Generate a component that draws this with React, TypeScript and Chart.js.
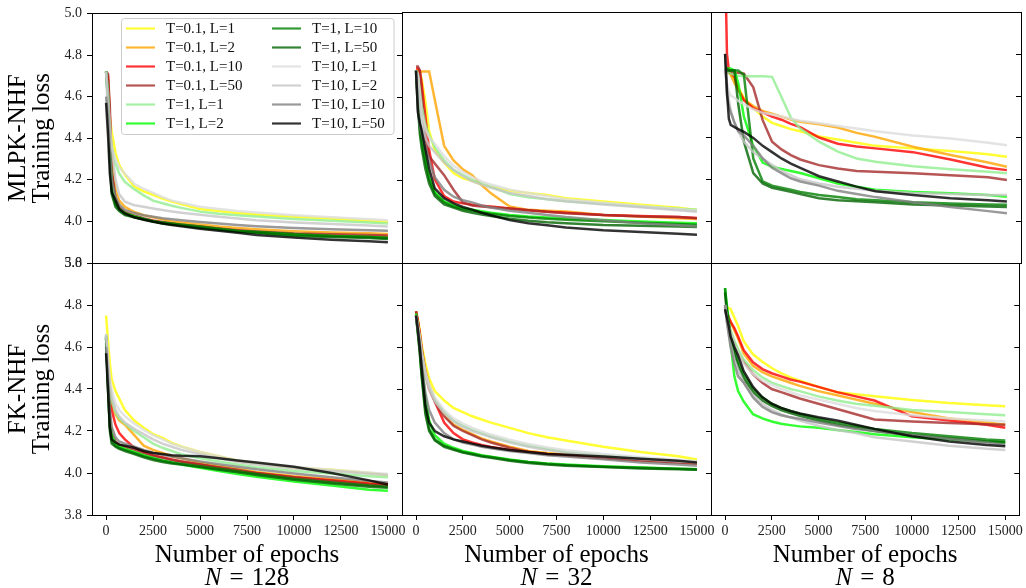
import React, { useEffect, useRef } from "react";
import { Chart, registerables } from "chart.js";

Chart.register(...registerables);

// ---------------- data ----------------
const EPOCHS = [0, 100, 200, 300, 500, 700, 1000, 1500, 2000, 2500, 3000, 3500, 4000, 5000, 6000, 7000, 8000, 10000, 12000, 14000, 15000];
const X_TICKS = [0, 2500, 5000, 7500, 10000, 12500, 15000];
const Y_TICKS = [3.8, 4.0, 4.2, 4.4, 4.6, 4.8, 5.0];

const SERIES_LABELS = [
  "T=0.1, L=1", "T=0.1, L=2", "T=0.1, L=10", "T=0.1, L=50",
  "T=1, L=1", "T=1, L=2", "T=1, L=10", "T=1, L=50",
  "T=10, L=1", "T=10, L=2", "T=10, L=10", "T=10, L=50",
];
const SERIES_COLORS = [
  "rgba(255,255,0,0.8)", "rgba(255,165,0,0.8)", "rgba(255,0,0,0.8)", "rgba(165,42,42,0.8)",
  "rgba(144,238,144,0.8)", "rgba(0,255,0,0.8)", "rgba(0,128,0,0.8)", "rgba(0,100,0,0.8)",
  "rgba(220,220,220,0.8)", "rgba(198,198,198,0.8)", "rgba(128,128,128,0.8)", "rgba(0,0,0,0.8)",
];
const ROW_LABELS = [["MLPK-NHF", "Training loss"], ["FK-NHF", "Training loss"]];
const COL_N = ["128", "32", "8"];
const X_TITLE = "Number of epochs";

// MLPK-NHF, N = 128
const MLPK_N128 = [
  [4.72, 4.62, 4.50, 4.43, 4.33, 4.27, 4.225, 4.168, 4.145, 4.128, 4.11, 4.095, 4.083, 4.06, 4.05, 4.04, 4.033, 4.022, 4.014, 4.003, 3.998],
  [4.72, 4.68, 4.50, 4.30, 4.15, 4.10, 4.07, 4.045, 4.03, 4.02, 4.01, 4.0, 3.995, 3.985, 3.975, 3.968, 3.962, 3.953, 3.947, 3.943, 3.94],
  [4.72, 4.70, 4.50, 4.22, 4.10, 4.065, 4.04, 4.025, 4.012, 4.002, 3.995, 3.988, 3.982, 3.972, 3.963, 3.955, 3.948, 3.938, 3.932, 3.928, 3.925],
  [4.72, 4.71, 4.55, 4.25, 4.11, 4.07, 4.045, 4.028, 4.015, 4.005, 3.997, 3.99, 3.984, 3.975, 3.966, 3.958, 3.952, 3.942, 3.938, 3.935, 3.932],
  [4.72, 4.55, 4.42, 4.36, 4.28, 4.23, 4.19, 4.155, 4.125, 4.10, 4.087, 4.075, 4.065, 4.047, 4.037, 4.03, 4.023, 4.012, 4.003, 3.995, 3.99],
  [4.72, 4.62, 4.38, 4.18, 4.09, 4.06, 4.04, 4.025, 4.012, 4.0, 3.992, 3.986, 3.98, 3.97, 3.962, 3.953, 3.947, 3.935, 3.93, 3.925, 3.92],
  [4.72, 4.60, 4.33, 4.15, 4.08, 4.055, 4.035, 4.02, 4.01, 4.0, 3.995, 3.99, 3.985, 3.975, 3.965, 3.955, 3.95, 3.94, 3.93, 3.925, 3.92],
  [4.72, 4.58, 4.30, 4.13, 4.07, 4.05, 4.03, 4.02, 4.01, 4.0, 3.99, 3.985, 3.98, 3.97, 3.96, 3.95, 3.945, 3.93, 3.925, 3.92, 3.915],
  [4.72, 4.50, 4.39, 4.35, 4.30, 4.26, 4.23, 4.18, 4.157, 4.137, 4.117, 4.10, 4.09, 4.07, 4.06, 4.05, 4.043, 4.03, 4.02, 4.01, 4.006],
  [4.72, 4.62, 4.48, 4.36, 4.20, 4.13, 4.095, 4.078, 4.07, 4.062, 4.055, 4.048, 4.042, 4.032, 4.022, 4.014, 4.006, 3.995, 3.988, 3.98, 3.975],
  [4.60, 4.50, 4.35, 4.20, 4.12, 4.08, 4.055, 4.04, 4.03, 4.022, 4.015, 4.01, 4.005, 3.997, 3.99, 3.983, 3.977, 3.968, 3.962, 3.958, 3.955],
  [4.57, 4.42, 4.23, 4.14, 4.10, 4.06, 4.038, 4.02, 4.008, 3.998, 3.99, 3.983, 3.977, 3.965, 3.955, 3.945, 3.935, 3.922, 3.912, 3.905, 3.90],
];

// MLPK-NHF, N = 32
const MLPK_N32 = [
  [4.72, 4.72, 4.71, 4.68, 4.57, 4.43, 4.34, 4.28, 4.23, 4.205, 4.193, 4.175, 4.165, 4.145, 4.135, 4.125, 4.11, 4.094, 4.078, 4.064, 4.054],
  [4.72, 4.716, 4.716, 4.716, 4.716, 4.716, 4.58, 4.36, 4.29, 4.248, 4.22, 4.173, 4.133, 4.07, 4.054, 4.05, 4.046, 4.03, 4.022, 4.014, 4.01],
  [4.73, 4.73, 4.72, 4.66, 4.50, 4.34, 4.20, 4.12, 4.094, 4.085, 4.078, 4.074, 4.07, 4.06, 4.052, 4.045, 4.04, 4.03, 4.025, 4.02, 4.015],
  [4.74, 4.74, 4.72, 4.62, 4.40, 4.31, 4.276, 4.22, 4.15, 4.09, 4.075, 4.07, 4.066, 4.06, 4.052, 4.045, 4.038, 4.03, 4.022, 4.02, 4.014],
  [4.72, 4.70, 4.62, 4.55, 4.46, 4.41, 4.355, 4.29, 4.245, 4.22, 4.197, 4.18, 4.165, 4.13, 4.114, 4.105, 4.095, 4.083, 4.07, 4.059, 4.054],
  [4.72, 4.60, 4.47, 4.40, 4.30, 4.21, 4.14, 4.095, 4.075, 4.062, 4.055, 4.048, 4.04, 4.03, 4.022, 4.017, 4.012, 4.005, 3.998, 3.992, 3.99],
  [4.72, 4.58, 4.45, 4.38, 4.28, 4.20, 4.13, 4.09, 4.07, 4.058, 4.05, 4.042, 4.035, 4.025, 4.018, 4.012, 4.007, 4.0, 3.993, 3.987, 3.983],
  [4.71, 4.55, 4.42, 4.35, 4.25, 4.18, 4.12, 4.08, 4.065, 4.05, 4.04, 4.032, 4.025, 4.012, 4.002, 3.995, 3.99, 3.982, 3.978, 3.975, 3.972],
  [4.72, 4.70, 4.60, 4.52, 4.44, 4.40, 4.37, 4.31, 4.265, 4.235, 4.21, 4.19, 4.175, 4.15, 4.135, 4.12, 4.105, 4.088, 4.072, 4.058, 4.05],
  [4.72, 4.68, 4.56, 4.48, 4.40, 4.36, 4.33, 4.28, 4.245, 4.215, 4.19, 4.175, 4.16, 4.135, 4.12, 4.105, 4.095, 4.08, 4.066, 4.052, 4.045],
  [4.72, 4.53, 4.46, 4.42, 4.35, 4.29, 4.21, 4.15, 4.117, 4.10, 4.09, 4.075, 4.065, 4.05, 4.04, 4.03, 4.02, 4.005, 3.99, 3.98, 3.975],
  [4.72, 4.52, 4.47, 4.435, 4.34, 4.25, 4.157, 4.11, 4.085, 4.068, 4.055, 4.04, 4.028, 4.005, 3.99, 3.98, 3.97, 3.957, 3.948, 3.94, 3.935],
];

// MLPK-NHF, N = 8
const MLPK_N8 = [
  [4.72, 4.72, 4.71, 4.70, 4.68, 4.64, 4.59, 4.54, 4.50, 4.47, 4.455, 4.44, 4.43, 4.405, 4.39, 4.375, 4.36, 4.348, 4.335, 4.32, 4.308],
  [4.72, 4.72, 4.71, 4.70, 4.66, 4.63, 4.582, 4.55, 4.527, 4.514, 4.50, 4.486, 4.475, 4.463, 4.448, 4.422, 4.403, 4.356, 4.316, 4.28, 4.26],
  [5.25, 4.80, 4.72, 4.71, 4.69, 4.63, 4.578, 4.54, 4.52, 4.50, 4.485, 4.465, 4.45, 4.40, 4.37, 4.357, 4.348, 4.33, 4.295, 4.255, 4.244],
  [4.72, 4.715, 4.71, 4.71, 4.71, 4.71, 4.705, 4.64, 4.483, 4.38, 4.343, 4.316, 4.295, 4.268, 4.252, 4.24, 4.236, 4.229, 4.22, 4.21, 4.197],
  [4.72, 4.715, 4.71, 4.705, 4.70, 4.695, 4.693, 4.693, 4.693, 4.69, 4.594, 4.495, 4.443, 4.38, 4.332, 4.30, 4.284, 4.263, 4.248, 4.236, 4.229],
  [4.73, 4.73, 4.73, 4.73, 4.72, 4.66, 4.50, 4.36, 4.28, 4.26, 4.25, 4.24, 4.23, 4.205, 4.18, 4.165, 4.15, 4.14, 4.133, 4.125, 4.117],
  [4.72, 4.73, 4.72, 4.72, 4.72, 4.72, 4.70, 4.30, 4.19, 4.17, 4.16, 4.15, 4.14, 4.125, 4.115, 4.105, 4.10, 4.09, 4.085, 4.08, 4.078],
  [4.72, 4.72, 4.72, 4.72, 4.72, 4.56, 4.38, 4.23, 4.18, 4.16, 4.15, 4.14, 4.13, 4.11, 4.10, 4.095, 4.09, 4.08, 4.075, 4.07, 4.068],
  [4.72, 4.66, 4.62, 4.60, 4.59, 4.575, 4.56, 4.535, 4.518, 4.51, 4.50, 4.49, 4.48, 4.468, 4.455, 4.443, 4.43, 4.41, 4.395, 4.375, 4.363],
  [4.72, 4.65, 4.58, 4.53, 4.47, 4.43, 4.38, 4.33, 4.30, 4.27, 4.24, 4.22, 4.20, 4.18, 4.165, 4.155, 4.145, 4.135, 4.13, 4.125, 4.125],
  [4.80, 4.60, 4.55, 4.52, 4.47, 4.43, 4.41, 4.36, 4.30, 4.255, 4.23, 4.205, 4.19, 4.17, 4.145, 4.13, 4.115, 4.09, 4.068, 4.048, 4.038],
  [4.80, 4.62, 4.49, 4.46, 4.45, 4.44, 4.427, 4.398, 4.36, 4.33, 4.30, 4.275, 4.255, 4.215, 4.19, 4.165, 4.143, 4.125, 4.11, 4.10, 4.094],
];

// FK-NHF, N = 128
const FK_N128 = [
  [4.75, 4.63, 4.52, 4.445, 4.39, 4.355, 4.30, 4.25, 4.215, 4.185, 4.167, 4.143, 4.127, 4.10, 4.08, 4.058, 4.045, 4.025, 4.015, 4.0, 3.99],
  [4.64, 4.50, 4.40, 4.33, 4.28, 4.25, 4.23, 4.18, 4.13, 4.11, 4.095, 4.08, 4.07, 4.05, 4.035, 4.02, 4.005, 3.985, 3.97, 3.955, 3.95],
  [4.64, 4.50, 4.38, 4.30, 4.23, 4.19, 4.16, 4.12, 4.10, 4.085, 4.075, 4.065, 4.055, 4.04, 4.025, 4.01, 4.0, 3.98, 3.965, 3.95, 3.945],
  [4.62, 4.45, 4.27, 4.19, 4.15, 4.135, 4.125, 4.11, 4.095, 4.082, 4.072, 4.062, 4.055, 4.04, 4.027, 4.015, 4.0, 3.98, 3.962, 3.945, 3.94],
  [4.66, 4.50, 4.40, 4.34, 4.29, 4.26, 4.235, 4.20, 4.17, 4.14, 4.12, 4.105, 4.09, 4.07, 4.055, 4.04, 4.028, 4.01, 3.998, 3.985, 3.98],
  [4.64, 4.45, 4.26, 4.18, 4.14, 4.125, 4.115, 4.10, 4.085, 4.072, 4.06, 4.05, 4.04, 4.025, 4.01, 3.995, 3.982, 3.96, 3.94, 3.92, 3.915],
  [4.65, 4.42, 4.22, 4.15, 4.13, 4.12, 4.11, 4.095, 4.08, 4.068, 4.058, 4.05, 4.044, 4.032, 4.02, 4.008, 3.995, 3.973, 3.955, 3.94, 3.935],
  [4.65, 4.40, 4.20, 4.14, 4.125, 4.115, 4.105, 4.09, 4.075, 4.062, 4.052, 4.045, 4.04, 4.028, 4.015, 4.003, 3.99, 3.968, 3.95, 3.935, 3.93],
  [4.66, 4.55, 4.45, 4.40, 4.33, 4.30, 4.27, 4.235, 4.205, 4.18, 4.16, 4.14, 4.125, 4.10, 4.08, 4.06, 4.045, 4.028, 4.015, 4.002, 3.995],
  [4.66, 4.53, 4.42, 4.36, 4.30, 4.27, 4.24, 4.21, 4.185, 4.16, 4.14, 4.125, 4.11, 4.09, 4.07, 4.052, 4.04, 4.022, 4.01, 3.997, 3.99],
  [4.60, 4.45, 4.30, 4.22, 4.17, 4.15, 4.14, 4.125, 4.11, 4.097, 4.087, 4.078, 4.07, 4.055, 4.042, 4.03, 4.018, 3.998, 3.98, 3.962, 3.955],
  [4.57, 4.40, 4.22, 4.16, 4.145, 4.135, 4.13, 4.12, 4.105, 4.095, 4.09, 4.085, 4.082, 4.08, 4.07, 4.06, 4.05, 4.03, 4.0, 3.965, 3.945],
];

// FK-NHF, N = 32
const FK_N32 = [
  [4.77, 4.73, 4.676, 4.61, 4.52, 4.45, 4.39, 4.345, 4.31, 4.29, 4.27, 4.255, 4.24, 4.215, 4.19, 4.17, 4.155, 4.125, 4.10, 4.08, 4.064],
  [4.76, 4.72, 4.67, 4.60, 4.49, 4.42, 4.35, 4.28, 4.23, 4.205, 4.185, 4.165, 4.15, 4.125, 4.105, 4.095, 4.088, 4.075, 4.062, 4.052, 4.047],
  [4.77, 4.72, 4.66, 4.58, 4.47, 4.40, 4.34, 4.24, 4.19, 4.16, 4.145, 4.133, 4.124, 4.11, 4.10, 4.09, 4.083, 4.07, 4.06, 4.05, 4.045],
  [4.77, 4.72, 4.66, 4.59, 4.48, 4.41, 4.34, 4.27, 4.225, 4.20, 4.18, 4.16, 4.145, 4.12, 4.10, 4.09, 4.085, 4.072, 4.06, 4.05, 4.045],
  [4.75, 4.70, 4.64, 4.57, 4.47, 4.41, 4.35, 4.29, 4.25, 4.225, 4.205, 4.19, 4.175, 4.15, 4.13, 4.115, 4.10, 4.085, 4.07, 4.058, 4.052],
  [4.76, 4.69, 4.62, 4.52, 4.36, 4.25, 4.18, 4.14, 4.12, 4.105, 4.095, 4.085, 4.078, 4.064, 4.053, 4.045, 4.04, 4.032, 4.026, 4.02, 4.018],
  [4.75, 4.67, 4.58, 4.47, 4.30, 4.21, 4.16, 4.13, 4.115, 4.10, 4.092, 4.082, 4.076, 4.062, 4.052, 4.044, 4.038, 4.03, 4.025, 4.02, 4.018],
  [4.75, 4.66, 4.57, 4.46, 4.28, 4.20, 4.155, 4.125, 4.11, 4.097, 4.088, 4.078, 4.072, 4.058, 4.048, 4.04, 4.035, 4.028, 4.022, 4.018, 4.015],
  [4.75, 4.70, 4.65, 4.58, 4.48, 4.42, 4.36, 4.30, 4.26, 4.235, 4.215, 4.198, 4.183, 4.158, 4.138, 4.122, 4.108, 4.09, 4.075, 4.062, 4.056],
  [4.75, 4.69, 4.63, 4.56, 4.46, 4.40, 4.34, 4.285, 4.245, 4.22, 4.20, 4.185, 4.17, 4.145, 4.125, 4.11, 4.097, 4.08, 4.066, 4.055, 4.05],
  [4.75, 4.68, 4.61, 4.52, 4.38, 4.30, 4.24, 4.19, 4.16, 4.145, 4.135, 4.125, 4.118, 4.105, 4.095, 4.085, 4.078, 4.065, 4.05, 4.04, 4.035],
  [4.75, 4.68, 4.60, 4.50, 4.32, 4.24, 4.20, 4.175, 4.16, 4.15, 4.14, 4.13, 4.123, 4.11, 4.10, 4.09, 4.087, 4.078, 4.068, 4.058, 4.05],
];

// FK-NHF, N = 8
const FK_N8 = [
  [4.80, 4.79, 4.785, 4.78, 4.74, 4.70, 4.628, 4.565, 4.53, 4.50, 4.475, 4.455, 4.44, 4.41, 4.385, 4.375, 4.366, 4.348, 4.333, 4.323, 4.318],
  [4.80, 4.77, 4.74, 4.72, 4.68, 4.64, 4.57, 4.51, 4.48, 4.46, 4.445, 4.43, 4.415, 4.39, 4.37, 4.35, 4.33, 4.29, 4.26, 4.24, 4.23],
  [4.80, 4.77, 4.74, 4.72, 4.69, 4.65, 4.585, 4.527, 4.495, 4.475, 4.46, 4.445, 4.435, 4.41, 4.385, 4.365, 4.345, 4.27, 4.25, 4.23, 4.215],
  [4.79, 4.74, 4.70, 4.67, 4.62, 4.57, 4.53, 4.47, 4.43, 4.40, 4.385, 4.37, 4.355, 4.33, 4.305, 4.28, 4.255, 4.245, 4.238, 4.232, 4.23],
  [4.80, 4.75, 4.71, 4.68, 4.63, 4.59, 4.54, 4.49, 4.455, 4.43, 4.415, 4.40, 4.39, 4.365, 4.345, 4.33, 4.32, 4.30, 4.29, 4.28, 4.275],
  [4.88, 4.80, 4.72, 4.62, 4.46, 4.39, 4.34, 4.28, 4.26, 4.245, 4.235, 4.228, 4.222, 4.215, 4.205, 4.195, 4.185, 4.17, 4.16, 4.15, 4.145],
  [4.88, 4.78, 4.72, 4.66, 4.59, 4.53, 4.47, 4.40, 4.36, 4.33, 4.31, 4.295, 4.282, 4.26, 4.24, 4.225, 4.21, 4.19, 4.175, 4.16, 4.155],
  [4.86, 4.76, 4.70, 4.64, 4.57, 4.51, 4.45, 4.385, 4.345, 4.32, 4.30, 4.285, 4.272, 4.25, 4.23, 4.215, 4.20, 4.18, 4.165, 4.15, 4.145],
  [4.80, 4.74, 4.70, 4.67, 4.61, 4.57, 4.52, 4.47, 4.44, 4.42, 4.40, 4.385, 4.37, 4.35, 4.33, 4.31, 4.295, 4.275, 4.26, 4.25, 4.245],
  [4.80, 4.72, 4.66, 4.61, 4.54, 4.49, 4.43, 4.37, 4.33, 4.30, 4.28, 4.265, 4.25, 4.225, 4.205, 4.19, 4.17, 4.15, 4.13, 4.115, 4.11],
  [4.80, 4.72, 4.66, 4.60, 4.52, 4.46, 4.43, 4.36, 4.315, 4.29, 4.275, 4.265, 4.258, 4.24, 4.225, 4.21, 4.20, 4.18, 4.162, 4.145, 4.135],
  [4.78, 4.74, 4.70, 4.65, 4.60, 4.56, 4.485, 4.41, 4.36, 4.33, 4.31, 4.295, 4.283, 4.265, 4.25, 4.23, 4.21, 4.175, 4.15, 4.133, 4.127],
];

const PANELS = [
  [MLPK_N128, MLPK_N32, MLPK_N8],
  [FK_N128, FK_N32, FK_N8],
];

// ---------------- layout ----------------
const W = 1026;
const H = 588;
const COL_EDGES = [92, 402, 711, 1021];
const ROW_EDGES = [12, 263, 515];
const Y_AXIS_W = 60;
const X_AXIS_H = 30;
const FONT = '"Liberation Serif", "DejaVu Serif", serif';

function drawLegend(ctx: CanvasRenderingContext2D) {
  ctx.save();
  ctx.beginPath();
  const bx = 121.5, by = 18.5, bw = 272.5, bh = 116, rr = 3;
  ctx.moveTo(bx + rr, by);
  ctx.arcTo(bx + bw, by, bx + bw, by + bh, rr);
  ctx.arcTo(bx + bw, by + bh, bx, by + bh, rr);
  ctx.arcTo(bx, by + bh, bx, by, rr);
  ctx.arcTo(bx, by, bx + bw, by, rr);
  ctx.closePath();
  ctx.fillStyle = "rgba(255,255,255,0.8)";
  ctx.fill();
  ctx.strokeStyle = "#cccccc";
  ctx.lineWidth = 1;
  ctx.stroke();
  ctx.font = `15px ${FONT}`;
  ctx.textBaseline = "middle";
  ctx.textAlign = "left";
  SERIES_LABELS.forEach((label, i) => {
    const col = i < 6 ? 0 : 1;
    const row = i % 6;
    const y = 28.5 + 19 * row;
    const x0 = col === 0 ? 126 : 272;
    const tx = col === 0 ? 166 : 312;
    ctx.beginPath();
    ctx.moveTo(x0, y);
    ctx.lineTo(x0 + 29, y);
    ctx.strokeStyle = SERIES_COLORS[i];
    ctx.lineWidth = 2.2;
    ctx.stroke();
    ctx.fillStyle = "#111";
    ctx.fillText(label, tx, y + 1);
  });
  ctx.restore();
}

function makeFramePlugin(r: number, c: number) {
  return {
    id: "frame" + r + c,
    afterDatasetsDraw(chart: any) {
      const ctx: CanvasRenderingContext2D = chart.ctx;
      const a = chart.chartArea;
      const ys = chart.scales.y;
      ctx.save();
      ctx.strokeStyle = "#000";
      ctx.lineWidth = 1;
      Y_TICKS.forEach((v) => {
        const py = Math.round(ys.getPixelForValue(v)) + 0.5;
        ctx.beginPath();
        ctx.moveTo(a.right - 5, py);
        ctx.lineTo(a.right, py);
        ctx.stroke();
      });
      ctx.strokeRect(Math.round(a.left) + 0.5, Math.round(a.top) + 0.5, Math.round(a.right - a.left), Math.round(a.bottom - a.top));
      ctx.restore();
    },
    afterDraw(chart: any) {
      const ctx: CanvasRenderingContext2D = chart.ctx;
      const a = chart.chartArea;
      ctx.save();
      ctx.fillStyle = "#000";
      if (r === 0 && c === 0) drawLegend(ctx);
      if (r === 1) {
        const cx = (a.left + a.right) / 2;
        ctx.font = `25px ${FONT}`;
        ctx.textAlign = "center";
        ctx.textBaseline = "alphabetic";
        ctx.fillStyle = "#000";
        ctx.fillText(X_TITLE, cx, 562);
        const italic = `italic 25px ${FONT}`;
        const normal = `25px ${FONT}`;
        ctx.font = italic;
        const wN = ctx.measureText("N").width;
        ctx.font = normal;
        const wEq = ctx.measureText("=").width;
        const wNum = ctx.measureText(COL_N[c]).width;
        const gap = 8;
        const total = wN + gap + wEq + gap + wNum;
        let x = cx - total / 2;
        ctx.textAlign = "left";
        ctx.font = italic;
        ctx.fillText("N", x, 585);
        x += wN + gap;
        ctx.font = normal;
        ctx.fillText("=", x, 585);
        x += wEq + gap;
        ctx.fillText(COL_N[c], x, 585);
      }
      if (c === 0) {
        const cy = (a.top + a.bottom) / 2;
        ctx.font = `25px ${FONT}`;
        ctx.textAlign = "center";
        ctx.textBaseline = "alphabetic";
        [[25, ROW_LABELS[r][0]], [49, ROW_LABELS[r][1]]].forEach(([bx, txt]) => {
          ctx.save();
          ctx.translate(bx as number, cy);
          ctx.rotate(-Math.PI / 2);
          ctx.fillText(txt as string, 0, 0);
          ctx.restore();
        });
      }
      ctx.restore();
    },
  };
}

function makeConfig(r: number, c: number, panel: number[][]): any {
  const isLeft = c === 0;
  const isBottom = r === 1;
  const yW = isLeft ? Y_AXIS_W : 0;
  const xH = isBottom ? X_AXIS_H : 0;
  return {
    type: "line",
    data: {
      datasets: panel.map((vals, i) => ({
        label: SERIES_LABELS[i],
        data: EPOCHS.map((e, k) => ({ x: e, y: vals[k] })),
        borderColor: SERIES_COLORS[i],
        backgroundColor: SERIES_COLORS[i],
        borderWidth: 2.5,
        pointRadius: 0,
        pointHoverRadius: 0,
        fill: false,
        tension: 0,
        order: 11 - i,
      })),
    },
    options: {
      responsive: false,
      maintainAspectRatio: false,
      animation: false,
      events: [],
      layout: {
        autoPadding: false,
        padding: {
          left: COL_EDGES[c] - yW,
          right: W - COL_EDGES[c + 1],
          top: ROW_EDGES[r],
          bottom: H - ROW_EDGES[r + 1] - xH,
        },
      },
      plugins: {
        legend: { display: false },
        tooltip: { enabled: false },
        title: { display: false },
      },
      scales: {
        x: {
          type: "linear",
          min: -750,
          max: 15750,
          afterBuildTicks: (s: any) => {
            s.ticks = X_TICKS.map((v) => ({ value: v }));
          },
          afterFit: (s: any) => {
            s.height = xH;
          },
          border: { display: false },
          grid: {
            display: isBottom,
            drawOnChartArea: false,
            drawTicks: true,
            tickLength: 5,
            tickColor: "#000",
            tickWidth: 1,
          },
          ticks: {
            display: isBottom,
            autoSkip: false,
            maxRotation: 0,
            minRotation: 0,
            padding: 3,
            color: "#222",
            font: { family: FONT, size: 14 },
            callback: (v: any) => String(v),
          },
        },
        y: {
          type: "linear",
          min: 3.8,
          max: 5.0,
          afterBuildTicks: (s: any) => {
            s.ticks = Y_TICKS.map((v) => ({ value: v }));
          },
          afterFit: (s: any) => {
            s.width = yW;
          },
          border: { display: false },
          grid: {
            display: isLeft,
            drawOnChartArea: false,
            drawTicks: true,
            tickLength: 5,
            tickColor: "#000",
            tickWidth: 1,
          },
          ticks: {
            display: isLeft,
            padding: 5,
            color: "#222",
            font: { family: FONT, size: 14 },
            callback: (v: any) => Number(v).toFixed(1),
          },
        },
      },
    },
    plugins: [makeFramePlugin(r, c)],
  };
}

export default function App() {
  const refs = useRef<(HTMLCanvasElement | null)[]>([]);

  useEffect(() => {
    const charts: Chart[] = [];
    for (let r = 0; r < 2; r++) {
      for (let c = 0; c < 3; c++) {
        const canvas = refs.current[r * 3 + c];
        if (!canvas) continue;
        charts.push(new Chart(canvas, makeConfig(r, c, PANELS[r][c])));
      }
    }
    return () => {
      charts.forEach((ch) => ch.destroy());
    };
  }, []);

  return (
    <div style={{ position: "absolute", left: 0, top: 0, width: W, height: H, background: "#fff", overflow: "hidden" }}>
      {Array.from({ length: 6 }).map((_, i) => (
        <canvas
          key={i}
          ref={(el) => {
            refs.current[i] = el;
          }}
          width={W}
          height={H}
          style={{ position: "absolute", left: 0, top: 0, width: W, height: H }}
        />
      ))}
    </div>
  );
}
